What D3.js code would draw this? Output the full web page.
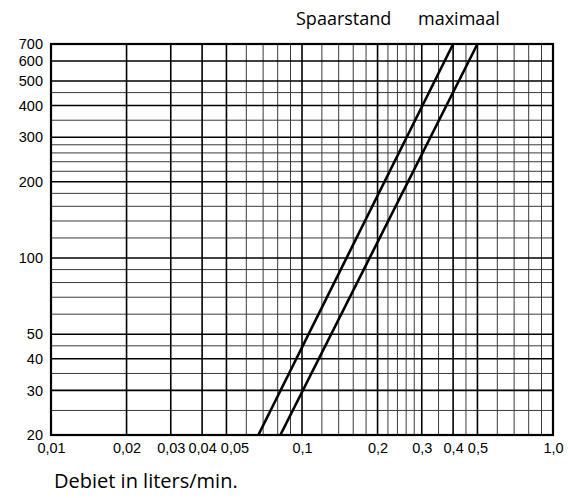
<!DOCTYPE html>
<html>
<head>
<meta charset="utf-8">
<script src="https://cdn.jsdelivr.net/npm/d3@7"></script>
<style>
  html, body { margin: 0; padding: 0; background: #fff; }
  svg { display: block; }
</style>
</head>
<body>
<svg id="chart" width="568" height="498"></svg>
<script>
// Flow rate (l/min) on a log axis, second quantity on a log axis
const xTicks = [0.01, 0.02, 0.03, 0.04, 0.05, 0.1, 0.2, 0.3, 0.4, 0.5, 1.0];
const xTickLabels = ["0,01", "0,02", "0,03", "0,04", "0,05", "0,1", "0,2", "0,3", "0,4", "0,5", "1,0"];
const xMinorGrid = [0.06, 0.07, 0.08, 0.09, 0.12, 0.14, 0.16, 0.18,
                    0.22, 0.24, 0.26, 0.28, 0.35, 0.45, 0.6, 0.7, 0.8, 0.9];

const yTicks = [20, 30, 40, 50, 100, 200, 300, 400, 500, 600, 700];
const yTickLabels = ["20", "30", "40", "50", "100", "200", "300", "400", "500", "600", "700"];
const yMinorGrid = [25, 35, 45, 60, 70, 80, 90, 120, 140, 160, 180,
                    220, 240, 260, 280, 350, 450];

// Characteristic lines: [flow, value] end points
const spaarstand = [[0.067, 20], [0.40, 700]];
const maximaal   = [[0.082, 20], [0.50, 700]];

const seriesNames = ["Spaarstand", "maximaal"];
const axisTitle = "Debiet in liters/min.";

const svg = d3.select("#chart");
const plotLeft = 51, plotRight = 553, plotTop = 44, plotBottom = 435;

const x = d3.scaleLog().domain([0.01, 1.0]).range([plotLeft, plotRight]);
const y = d3.scaleLog().domain([20, 700]).range([plotBottom, plotTop]);

const grid = svg.append("g");

// minor grid
grid.selectAll("line.vminor").data(xMinorGrid).join("line")
  .attr("class", "vminor")
  .attr("x1", d => x(d)).attr("x2", d => x(d))
  .attr("y1", plotTop).attr("y2", plotBottom)
  .attr("stroke", "#3a3a3a").attr("stroke-width", 1);
grid.selectAll("line.hminor").data(yMinorGrid).join("line")
  .attr("class", "hminor")
  .attr("y1", d => y(d)).attr("y2", d => y(d))
  .attr("x1", plotLeft).attr("x2", plotRight)
  .attr("stroke", "#3a3a3a").attr("stroke-width", 1);

// major grid
grid.selectAll("line.vmajor").data(xTicks).join("line")
  .attr("class", "vmajor")
  .attr("x1", d => x(d)).attr("x2", d => x(d))
  .attr("y1", plotTop).attr("y2", plotBottom)
  .attr("stroke", "#000").attr("stroke-width", 1.6);
grid.selectAll("line.hmajor").data(yTicks).join("line")
  .attr("class", "hmajor")
  .attr("y1", d => y(d)).attr("y2", d => y(d))
  .attr("x1", plotLeft).attr("x2", plotRight)
  .attr("stroke", "#000").attr("stroke-width", 1.6);

// frame
svg.append("rect")
  .attr("x", plotLeft).attr("y", plotTop)
  .attr("width", plotRight - plotLeft).attr("height", plotBottom - plotTop)
  .attr("fill", "none").attr("stroke", "#000").attr("stroke-width", 2.2);

// characteristic lines
const line = d3.line().x(d => x(d[0])).y(d => y(d[1]));
svg.append("g").selectAll("path").data([spaarstand, maximaal]).join("path")
  .attr("d", line)
  .attr("fill", "none").attr("stroke", "#000").attr("stroke-width", 2.6);

const tickFont = "'Liberation Sans', Arial, sans-serif";

// x tick labels (0,05 nudged right so it clears 0,04)
const xAxis = d3.axisBottom(x).tickValues(xTicks)
  .tickFormat((d, i) => xTickLabels[i]).tickSize(0).tickPadding(8);
const gx = svg.append("g").attr("transform", `translate(0,${plotBottom})`).call(xAxis);
gx.select(".domain").remove();
gx.selectAll("text").attr("font-family", tickFont)
  .attr("font-size", 14.5).attr("fill", "#000")
  .attr("dx", d => d === 0.05 ? 8 : 0);

// y tick labels
const yAxis = d3.axisLeft(y).tickValues(yTicks)
  .tickFormat((d, i) => yTickLabels[i]).tickSize(0).tickPadding(8);
const gy = svg.append("g").attr("transform", `translate(${plotLeft},0)`).call(yAxis);
gy.select(".domain").remove();
gy.selectAll("text").attr("font-family", tickFont)
  .attr("font-size", 14.5).attr("fill", "#000");

// series titles above the chart
const titleFont = "'Open Sans', sans-serif";
svg.append("text").attr("x", 296).attr("y", 25)
  .attr("font-family", titleFont).attr("font-size", 18).attr("fill", "#000")
  .text(seriesNames[0]);
svg.append("text").attr("x", 418).attr("y", 25)
  .attr("font-family", titleFont).attr("font-size", 18).attr("fill", "#000")
  .text(seriesNames[1]);

// axis title
svg.append("text").attr("x", 54).attr("y", 488)
  .attr("font-family", titleFont).attr("font-size", 20).attr("fill", "#000")
  .text(axisTitle);
</script>
</body>
</html>
